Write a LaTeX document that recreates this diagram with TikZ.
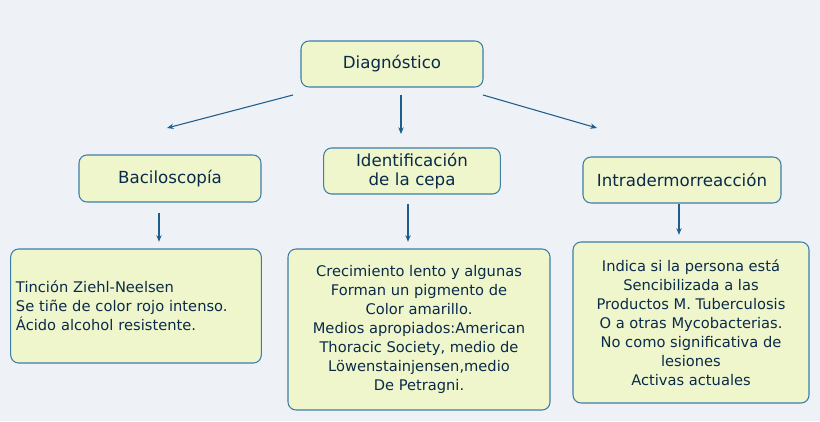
\documentclass[tikz,border=0pt]{standalone}
\usepackage{fontspec}
\setmainfont{DejaVu Sans}
\usetikzlibrary{arrows.meta}
\definecolor{bg}{HTML}{EEF1F6}
\definecolor{boxfill}{HTML}{EFF6CC}
\definecolor{boxdraw}{HTML}{3D7EA8}
\definecolor{arrowc}{HTML}{1F5E8C}
\definecolor{text}{HTML}{0A2A4A}
\tikzset{
  box/.style={draw=boxdraw, fill=boxfill, line width=0.8pt, rounded corners=6pt, text=text, align=center},
  head/.style={box, font=\fontsize{12.5}{14}\selectfont},
  body/.style={box, font=\fontsize{11}{14.2}\selectfont},
  arr/.style={draw=arrowc, line width=0.8pt, -{Stealth[length=5pt,width=4pt]}},
}
\begin{document}
\begin{tikzpicture}[x=0.75pt,y=-0.75pt]
  \fill[bg] (0,0) rectangle (820,421);
  \useasboundingbox (0,0) rectangle (820,421);

  % headings
  \node[head, minimum width=182*0.75pt, minimum height=46*0.75pt] (diag) at (392,64) {Diagnóstico};
  \node[head, minimum width=182*0.75pt, minimum height=47*0.75pt] (bac) at (170,178.5) {Baciloscopía};
  \node[head, text width=174*0.75pt, minimum height=46*0.75pt, inner sep=1pt] (iden) at (412,171) {Identificación de la cepa};
  \node[head, minimum width=198*0.75pt, minimum height=46*0.75pt] (intra) at (682,180) {Intradermorreacción};

  % contents
  \node[body, align=left, minimum width=248*0.75pt, minimum height=114*0.75pt, text width=240*0.75pt, inner sep=4pt] (bactxt) at (136,306)
    {Tinción Ziehl-Neelsen\\Se tiñe de color rojo intenso.\\Ácido alcohol resistente.};
  \node[body, minimum width=262*0.75pt, minimum height=161*0.75pt] (identxt) at (419,329.5)
    {Crecimiento lento y algunas\\Forman un pigmento de\\Color amarillo.\\Medios apropiados:American\\Thoracic Society, medio de\\Löwenstainjensen,medio\\De Petragni.};
  \node[body, minimum width=236*0.75pt, minimum height=161*0.75pt] (intratxt) at (691,322.5)
    {Indica si la persona está\\Sencibilizada a las\\Productos M. Tuberculosis\\O a otras Mycobacterias.\\No como significativa de\\lesiones\\Activas actuales};

  % arrow ends
  \coordinate (d1) at (293,95);
  \coordinate (d2) at (401,95);
  \coordinate (d3) at (483,95);
  \coordinate (b1) at (167,128);
  \coordinate (b2) at (401,134);
  \coordinate (b3) at (597,128);

  \draw[arr] (d1) -- (b1);
  \draw[arr] (d2) -- (b2);
  \draw[arr] (d3) -- (b3);

  \draw[arr, shorten <=8pt, shorten >=5pt] (bac.south -| 159,0) -- (bactxt.north -| 159,0);
  \draw[arr, shorten <=7pt, shorten >=5pt] (iden.south -| 408,0) -- (identxt.north -| 408,0);
  \draw[arr, shorten <=0pt, shorten >=5pt] (intra.south -| 679,0) -- (intratxt.north -| 679,0);
\end{tikzpicture}
\end{document}
